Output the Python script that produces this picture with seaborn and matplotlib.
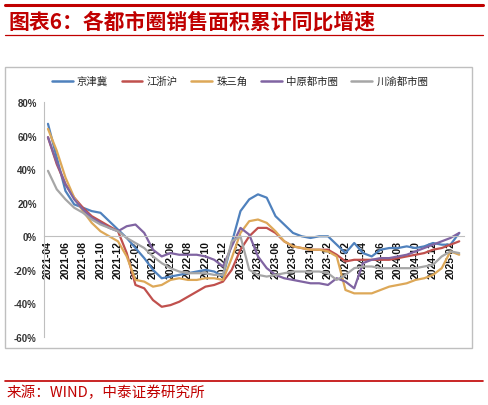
import pandas as pd
import matplotlib
matplotlib.use('Agg')
import matplotlib.pyplot as plt
from matplotlib.lines import Line2D
from matplotlib.patches import Rectangle
import seaborn as sns

# 月份 (2021-04 ~ 2025-03)
months = [str(p) for p in pd.period_range('2021-04', '2025-03', freq='M')]

# 各都市圈销售面积累计同比 (%)
jjj = [67, 47, 27, 19, 17, 15, 14, 9, 4, -1, -7, -13, -20, -25, -24, -23, -22, -21, -20, -21, -24, -4,
       15, 22, 25, 23, 12, 7, 2, 0, -1, 0, 0, -5, -10, -4, -10, -12, -8, -7, -7, -6, -7, -6, -4, -5, -5, 2]
jzh = [59, 43, 31, 23, 17, 12, 9, 6, 3, -10, -29, -31, -38, -42, -41, -39, -36, -33, -30, -29, -27, -20,
       -8, 0, 5, 5, 2, -3, -6, -7, -8, -8, -8, -11, -15, -14, -14, -14, -14, -14, -13, -12, -11, -10, -8, -7, -5, -3]
zsj = [64, 51, 35, 23, 15, 8, 3, 0, -3, -12, -26, -27, -30, -29, -26, -25, -26, -26, -25, -25, -26, -13,
       2, 9, 10, 8, 3, -3, -6, -7, -8, -8, -9, -12, -32, -34, -34, -34, -32, -30, -29, -28, -26, -25, -23, -19, -9, -11]
zy = [59, 44, 31, 22, 16, 11, 8, 5, 3, 6, 7, 2, -8, -12, -10, -11, -11, -11, -12, -14, -18, -6,
      5, 1, -12, -19, -23, -25, -26, -27, -28, -28, -29, -25, -27, -31, -16, -14, -13, -13, -12, -11, -9, -7, -5, -3, -1, 2]
cy = [39, 28, 22, 17, 14, 10, 7, 5, 3, -1, -4, -7, -12, -16, -19, -21, -22, -22, -22, -23, -23, -3,
      0, -20, -23, -24, -23, -22, -21, -21, -21, -21, -22, -26, -23, -19, -18, -18, -19, -19, -19, -19, -19, -18, -17, -12, -9, -10]

series_names = ['京津冀', '江浙沪', '珠三角', '中原都市圈', '川渝都市圈']
colors = ['#4F81BD', '#C0504D', '#DDA858', '#8064A2', '#A6A6A6']

rows = []
for name, vals in zip(series_names, [jjj, jzh, zsj, zy, cy]):
    for i, v in enumerate(vals):
        rows.append({'idx': i, '月份': months[i], '同比': v, '都市圈': name})
df = pd.DataFrame(rows)

sns.set_style('white')
plt.rcParams['font.family'] = ['Noto Sans CJK SC', 'DejaVu Sans']
plt.rcParams['axes.unicode_minus'] = False

W, H = 488, 406
fig = plt.figure(figsize=(W / 100, H / 100), dpi=100)

def fx(px):
    return px / W

def fy(py):
    return 1 - py / H

# 图表外框
fig.patches.append(Rectangle((fx(5), fy(349)), fx(471.5) - fx(5), fy(68) - fy(349),
                             transform=fig.transFigure, fill=False, edgecolor='#BFBFBF', linewidth=1))

ax = fig.add_axes([fx(43.6), fy(338), fx(463.6) - fx(43.6), fy(103) - fy(338)])

sns.lineplot(data=df, x='idx', y='同比', hue='都市圈', hue_order=series_names,
             palette=colors, linewidth=1.6, ax=ax, legend=False)

ax.set_xlim(-0.5, len(months) - 0.5)
ax.set_ylim(-60, 80)
ax.set_xlabel('')
ax.set_ylabel('')

# 坐标轴
for s in ['top', 'right']:
    ax.spines[s].set_visible(False)
ax.spines['left'].set_color('#BFBFBF')
ax.spines['bottom'].set_color('#BFBFBF')
ax.spines['bottom'].set_position(('data', 0))

ax.set_yticks(range(-60, 81, 20))
ax.set_yticklabels([f'{v}%' for v in range(-60, 81, 20)], fontsize=7, fontweight='bold',
                   family='Liberation Sans', color='#333333')
ax.tick_params(axis='y', length=3, color='#BFBFBF', pad=2)

ax.set_xticks(range(0, len(months), 2))
ax.set_xticklabels(months[::2], rotation=90, fontsize=7.5, fontweight='bold',
                   family='Liberation Sans', color='#111111')
ax.set_xticks([k - 0.5 for k in range(0, len(months) + 1, 2)], minor=True)
ax.tick_params(axis='x', which='major', length=0, pad=3)
ax.tick_params(axis='x', which='minor', length=3, color='#BFBFBF', direction='out')

# 图例
handles = [Line2D([0], [0], color=c, lw=1.8) for c in colors]
fig.legend(handles, series_names, loc='center', bbox_to_anchor=(fx(240), fy(82)), ncol=5,
           frameon=False, fontsize=7.5, handlelength=2.0, handletextpad=0.4, columnspacing=1.3)

# 标题与红线
fig.add_artist(Line2D([fx(5), fx(483)], [fy(6), fy(6)], color='#C00000', lw=2.2, transform=fig.transFigure))
fig.add_artist(Line2D([fx(5), fx(483)], [fy(36), fy(36)], color='#C00000', lw=0.9, transform=fig.transFigure))
fig.text(fx(8), fy(22), '图表6：各都市圈销售面积累计同比增速', color='#C00000', fontsize=15,
         fontweight='bold', fontstyle='italic', va='center', ha='left')

fig.add_artist(Line2D([fx(5), fx(483)], [fy(382), fy(382)], color='#C00000', lw=1.2, transform=fig.transFigure))
fig.text(fx(7), fy(393), '来源：WIND，中泰证券研究所', color='#C00000', fontsize=10.5,
         va='center', ha='left')

fig.savefig('out.png', dpi=100)
